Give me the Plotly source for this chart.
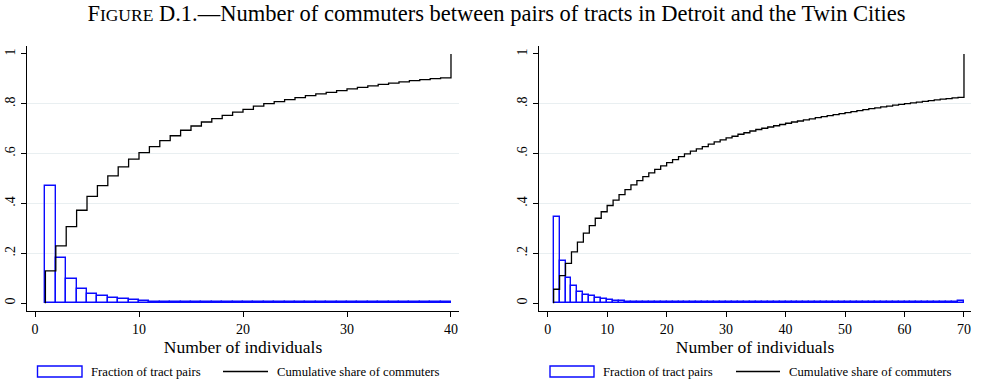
import plotly.graph_objects as go

# ---------------- data ----------------
# Detroit: fraction of tract pairs by number of commuters (bins 1..39, each spanning [k, k+1])
det_bins = list(range(1, 40))
det_frac = [0.470, 0.180, 0.096, 0.059, 0.037, 0.027, 0.020, 0.015, 0.011, 0.008,
            0.0065, 0.0055, 0.0050, 0.0046, 0.0043, 0.0041, 0.0039, 0.0038, 0.0037, 0.0036,
            0.0035, 0.0035, 0.0034, 0.0034, 0.0033, 0.0033, 0.0033, 0.0032, 0.0032, 0.0032,
            0.0032, 0.0031, 0.0031, 0.0031, 0.0031, 0.0031, 0.0030, 0.0030, 0.0065]
# Detroit: cumulative share of commuters (x = 1..40)
det_cum_x = list(range(1, 41))
det_cum = [0.130, 0.230, 0.307, 0.373, 0.429, 0.472, 0.511, 0.547, 0.578, 0.604,
           0.628, 0.652, 0.672, 0.694, 0.711, 0.727, 0.741, 0.754, 0.767, 0.778,
           0.791, 0.801, 0.809, 0.817, 0.825, 0.833, 0.840, 0.846, 0.853, 0.860,
           0.866, 0.872, 0.878, 0.883, 0.888, 0.893, 0.897, 0.901, 0.904, 1.000]

# Twin Cities: bins 1..69
tc_bins = list(range(1, 70))
tc_frac = [0.347, 0.171, 0.103, 0.068, 0.047, 0.035, 0.027, 0.019, 0.015, 0.012,
           0.010, 0.008, 0.0065, 0.0056, 0.0050, 0.0046, 0.0043, 0.0041, 0.0039, 0.0038,
           0.0037, 0.0036, 0.0035, 0.0035, 0.0034, 0.0034, 0.0034, 0.0033, 0.0033, 0.0033,
           0.0033, 0.0032, 0.0032, 0.0032, 0.0032, 0.0032, 0.0032, 0.0031, 0.0031, 0.0031,
           0.0031, 0.0031, 0.0031, 0.0031, 0.0031, 0.0030, 0.0030, 0.0030, 0.0030, 0.0030,
           0.0030, 0.0030, 0.0030, 0.0030, 0.0030, 0.0030, 0.0030, 0.0030, 0.0030, 0.0030,
           0.0030, 0.0030, 0.0030, 0.0030, 0.0030, 0.0030, 0.0030, 0.0030, 0.0070]
tc_cum_x = list(range(1, 71))
tc_cum = [0.056, 0.111, 0.160, 0.206, 0.245, 0.281, 0.311, 0.341, 0.367, 0.392,
          0.414, 0.436, 0.456, 0.475, 0.492, 0.508, 0.523, 0.537, 0.551, 0.564,
          0.576, 0.588, 0.599, 0.610, 0.619, 0.628, 0.638, 0.647, 0.655, 0.663,
          0.670, 0.678, 0.684, 0.691, 0.697, 0.702, 0.707, 0.712, 0.717, 0.722,
          0.727, 0.731, 0.736, 0.740, 0.745, 0.749, 0.753, 0.757, 0.761, 0.765,
          0.769, 0.773, 0.777, 0.781, 0.784, 0.788, 0.791, 0.795, 0.798, 0.801,
          0.804, 0.807, 0.810, 0.813, 0.816, 0.819, 0.821, 0.824, 0.826, 1.000]

y_ticks = [0, 0.2, 0.4, 0.6, 0.8, 1]
y_ticklabels = ["0", ".2", ".4", ".6", ".8", "1"]
det_xticks = [0, 10, 20, 30, 40]
tc_xticks = [0, 10, 20, 30, 40, 50, 60, 70]

title_html = ("F<span style='font-size:17.5px'>IGURE</span> D.1.—Number of commuters "
              "between pairs of tracts in Detroit and the Twin Cities")
x_title = "Number of individuals"
leg_bar = "Fraction of tract pairs"
leg_line = "Cumulative share of commuters"

# ---------------- styling ----------------
W, H = 993, 379
SERIF = "Liberation Serif, Times New Roman, serif"
BLUE = "#0a0aff"
GRID = "#e9eff1"

def px_x(p):
    return p / W

def px_y(p):
    return 1 - p / H

fig = go.Figure()

panels = [
    dict(bins=det_bins, frac=det_frac, cx=det_cum_x, cy=det_cum,
         xa="x", ya="y", xr=[-0.77, 40.77], dom=[px_x(27), px_x(459)], ticks=det_xticks),
    dict(bins=tc_bins, frac=tc_frac, cx=tc_cum_x, cy=tc_cum,
         xa="x2", ya="y2", xr=[-1.46, 71.18], dom=[px_x(539), px_x(971)], ticks=tc_xticks),
]

ydom = [px_y(310.7), px_y(46)]

for i, p in enumerate(panels):
    fig.add_trace(go.Bar(
        x=p["bins"], y=p["frac"], width=1, offset=0,
        marker=dict(color="rgba(255,255,255,0)", line=dict(color=BLUE, width=1.4)),
        xaxis=p["xa"], yaxis=p["ya"], showlegend=False, hoverinfo="skip"))
    fig.add_trace(go.Scatter(
        x=[p["cx"][0]] + p["cx"], y=[0] + p["cy"], mode="lines",
        line=dict(color="black", width=1.3, shape="hv"),
        xaxis=p["xa"], yaxis=p["ya"], showlegend=False, hoverinfo="skip"))

tickfont = dict(family=SERIF, size=14, color="black")

layout = dict(
    width=W, height=H,
    margin=dict(l=0, r=0, t=0, b=0),
    paper_bgcolor="white", plot_bgcolor="white",
    bargap=0, barmode="overlay",
    showlegend=False,
    title=dict(text=title_html, x=0.5, xanchor="center", y=px_y(13), yanchor="middle",
               font=dict(family=SERIF, size=22.5, color="black")),
)

for i, p in enumerate(panels):
    xa_name = "xaxis" if i == 0 else "xaxis2"
    ya_name = "yaxis" if i == 0 else "yaxis2"
    yr_name = "yaxis3" if i == 0 else "yaxis4"
    ya_id = "y" if i == 0 else "y2"
    xa_id = "x" if i == 0 else "x2"
    layout[xa_name] = dict(
        domain=p["dom"], range=p["xr"], anchor=ya_id,
        showline=True, linecolor="black", linewidth=1.2,
        ticks="outside", ticklen=5, tickwidth=1.1, tickcolor="black",
        tickvals=p["ticks"], ticktext=[str(t) for t in p["ticks"]],
        tickfont=tickfont, showgrid=False, zeroline=False,
        title=dict(text=x_title, font=dict(family=SERIF, size=17.5, color="black"), standoff=3),
    )
    layout[ya_name] = dict(
        domain=ydom, range=[-0.03, 1.032], anchor=xa_id,
        showline=True, linecolor="black", linewidth=1.2,
        ticks="outside", ticklen=5, tickwidth=1.1, tickcolor="black",
        tickvals=y_ticks, ticktext=y_ticklabels, tickangle=-90,
        tickfont=tickfont, showgrid=False, zeroline=False,
        minor=dict(tickvals=[0.2, 0.4, 0.6, 0.8], showgrid=True, gridcolor=GRID,
                   gridwidth=1, ticks=""),
    )
    layout[yr_name] = dict(
        domain=ydom, range=[-0.03, 1.032], anchor=xa_id, overlaying=ya_id, side="right",
        showline=True, linecolor="black", linewidth=1.2,
        ticks="outside", ticklen=5, tickwidth=1.1, tickcolor="black",
        tickvals=y_ticks, ticktext=y_ticklabels, tickangle=90,
        tickfont=tickfont, showgrid=False, zeroline=False,
    )

fig.update_layout(**layout)

# Manual legends below each panel (paper coordinates)
legends = [
    dict(box=(37.5, 82), text1=89, line=(223, 268), text2=275),
    dict(box=(550, 594), text1=601, line=(736, 780), text2=787),
]
ly0, ly1, lyc = 366, 377, 371.5
for lg in legends:
    fig.add_shape(type="rect", xref="paper", yref="paper",
                  x0=px_x(lg["box"][0]), x1=px_x(lg["box"][1]),
                  y0=px_y(ly1), y1=px_y(ly0),
                  line=dict(color=BLUE, width=1.4), fillcolor="white")
    fig.add_shape(type="line", xref="paper", yref="paper",
                  x0=px_x(lg["line"][0]), x1=px_x(lg["line"][1]),
                  y0=px_y(lyc), y1=px_y(lyc),
                  line=dict(color="black", width=1.3))
    fig.add_annotation(text=leg_bar, xref="paper", yref="paper",
                       x=px_x(lg["text1"]), y=px_y(lyc), xanchor="left", yanchor="middle",
                       showarrow=False, font=dict(family=SERIF, size=12.7, color="black"))
    fig.add_annotation(text=leg_line, xref="paper", yref="paper",
                       x=px_x(lg["text2"]), y=px_y(lyc), xanchor="left", yanchor="middle",
                       showarrow=False, font=dict(family=SERIF, size=12.7, color="black"))

fig.write_html("out.html")
